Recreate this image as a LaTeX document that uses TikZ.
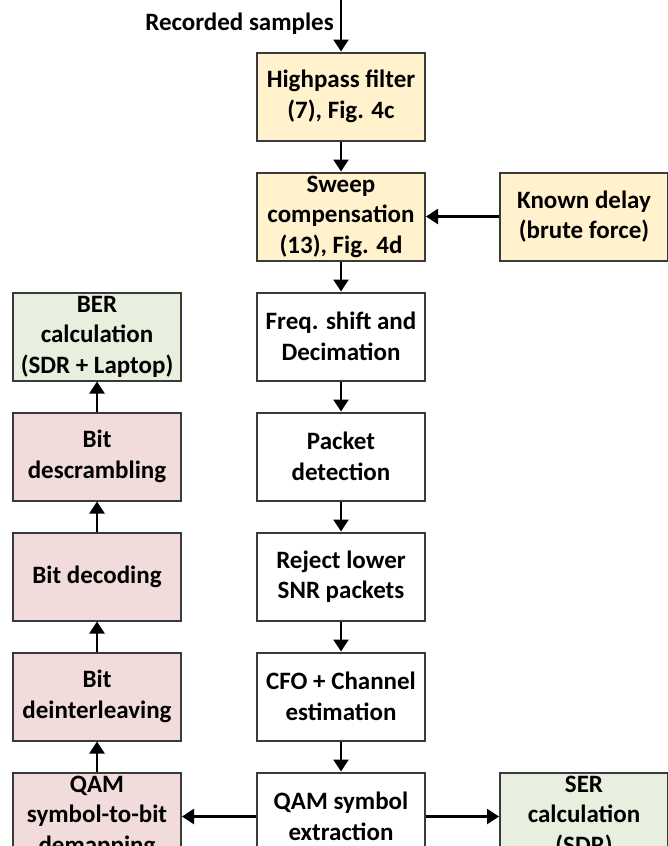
\documentclass[tikz,border=0pt]{standalone}
\usepackage{fontspec}
\setmainfont{Carlito}
\usepackage{tikz}
\usetikzlibrary{arrows.meta,positioning}
\definecolor{boxline}{HTML}{3A3A3A}
\definecolor{yellowfill}{HTML}{FFF2CC}
\definecolor{greenfill}{HTML}{E8EFDE}
\definecolor{redfill}{HTML}{F2DCDB}

\begin{document}
\begin{tikzpicture}[
    x=1pt, y=1pt,
    font=\fontsize{25}{30.5}\selectfont\bfseries,
    node distance=30pt and 74pt,
    block/.style={draw=boxline, fill=white, minimum width=168pt, minimum height=88pt, inner sep=1pt, align=center, line width=2pt},
    prep/.style={block, fill=yellowfill},
    result/.style={block, fill=greenfill},
    bitproc/.style={block, fill=redfill},
    flow/.style={-{Triangle[length=12pt,width=15pt]}, line width=2.4pt, draw=black}
]
\useasboundingbox (0,0) rectangle (668,-846);

\coordinate (in) at (341,0);
\node[anchor=east, inner sep=0pt] (rec) at (334,-24) {Recorded samples};
\node[prep] (hp) at (341,-96.5) {Highpass filter\\(7), Fig. 4c};
\node[prep, below=of hp] (sweep) {Sweep\\compensation\\(13), Fig. 4d};
\node[prep, right=73pt of sweep] (delay) {Known delay\\(brute force)};
\node[block, below=of sweep] (fsd) {Freq. shift and\\Decimation};
\node[block, below=of fsd] (pd) {Packet\\detection};
\node[block, below=of pd] (rej) {Reject lower\\SNR packets};
\node[block, below=of rej] (cfo) {CFO + Channel\\estimation};
\node[block, below=of cfo] (qam) {QAM symbol\\extraction};
\node[result, right=73pt of qam] (ser) {SER\\calculation\\(SDR)};
\node[bitproc, left=of qam] (demap) {QAM\\symbol-to-bit\\demapping};
\node[bitproc, above=of demap] (deint) {Bit\\deinterleaving};
\node[bitproc, above=of deint] (dec) {Bit decoding};
\node[bitproc, above=of dec] (descr) {Bit\\descrambling};
\node[result, above=of descr] (ber) {BER\\calculation\\(SDR + Laptop)};

\draw[flow] (in) -- (hp.north);
\draw[flow] (hp) -- (sweep);
\draw[flow] (delay) -- (sweep);
\draw[flow] (sweep) -- (fsd);
\draw[flow] (fsd) -- (pd);
\draw[flow] (pd) -- (rej);
\draw[flow] (rej) -- (cfo);
\draw[flow] (cfo) -- (qam);
\draw[flow] (qam) -- (ser);
\draw[flow] (qam) -- (demap);
\draw[flow] (demap) -- (deint);
\draw[flow] (deint) -- (dec);
\draw[flow] (dec) -- (descr);
\draw[flow] (descr) -- (ber);
\end{tikzpicture}
\end{document}
